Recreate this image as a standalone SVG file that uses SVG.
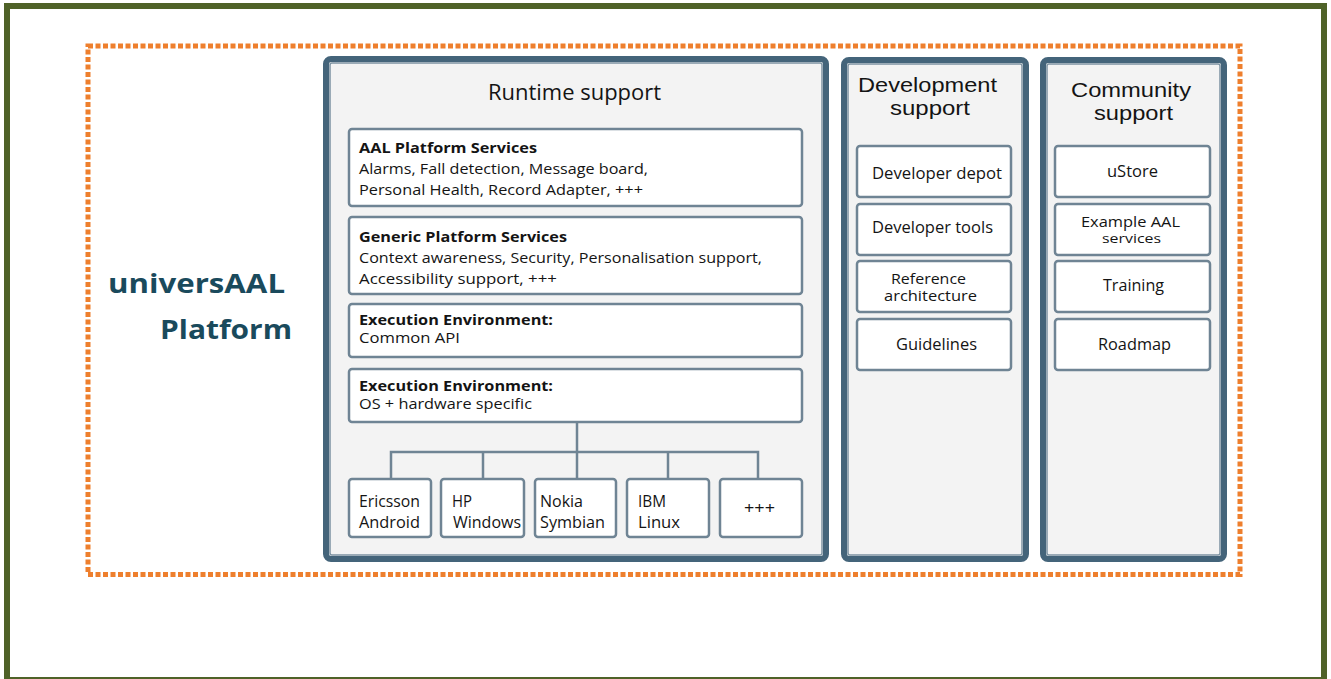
<svg xmlns="http://www.w3.org/2000/svg" width="1331" height="679" viewBox="0 0 1331 679">
<style>
text{font-family:"Open Sans","Liberation Sans",sans-serif;fill:#141414}
.panel{fill:#F3F3F3;stroke:#44647A;stroke-width:6}
.pin{fill:none;stroke:#7D93A2;stroke-width:1.5}
.box{fill:#FFFFFF;stroke:#6F8494;stroke-width:2.5}
.b{font-weight:bold}
.ptitle{font-size:22px}
.stitle{font-size:20px;font-family:"Liberation Sans","Open Sans",sans-serif}
.t15{font-size:15px}
.t14{font-size:13.5px}
.t16{font-size:16px}
.t2{font-size:14.5px}
.conn{fill:none;stroke:#6F8494;stroke-width:2.5}
</style>
<rect width="1331" height="679" fill="#FFFFFF"/>
<rect id="frame" x="7" y="6" width="1317" height="674" fill="none" stroke="#4F6228" stroke-width="6"/>
<rect id="platform-boundary" x="88" y="46" width="1152" height="528.5" fill="none" stroke="#EE7F2D" stroke-width="5" stroke-dasharray="5 2.5"/>
<g id="platform-label">
<text x="285" y="293" class="b" font-size="27" text-anchor="end" style="fill:#1A4A5C" textLength="177" lengthAdjust="spacingAndGlyphs">universAAL</text>
<text x="292" y="339" class="b" font-size="27" text-anchor="end" style="fill:#1A4A5C" textLength="132" lengthAdjust="spacingAndGlyphs">Platform</text>
</g>
<g id="runtime-support">
<rect class="panel" x="326" y="59" width="500" height="500" rx="5"/>
<rect class="pin" x="330" y="63" width="492" height="492" rx="2"/>
<text x="488" y="100" class="ptitle" textLength="173" lengthAdjust="spacingAndGlyphs">Runtime support</text>
</g>
<g id="aal-platform-services">
<rect class="box" x="349" y="129" width="453" height="77" rx="3"/>
<text x="359" y="153" class="b t15" textLength="178" lengthAdjust="spacingAndGlyphs">AAL Platform Services</text>
<text x="359" y="174" class="t15" textLength="289" lengthAdjust="spacingAndGlyphs">Alarms, Fall detection, Message board,</text>
<text x="359" y="195" class="t15" textLength="284" lengthAdjust="spacingAndGlyphs">Personal Health, Record Adapter, +++</text>
</g>
<g id="generic-platform-services">
<rect class="box" x="349" y="217" width="453" height="77" rx="3"/>
<text x="359" y="242" class="b t15" textLength="208" lengthAdjust="spacingAndGlyphs">Generic Platform Services</text>
<text x="359" y="263" class="t15" textLength="403" lengthAdjust="spacingAndGlyphs">Context awareness, Security, Personalisation support,</text>
<text x="359" y="284" class="t15" textLength="198" lengthAdjust="spacingAndGlyphs">Accessibility support, +++</text>
</g>
<g id="exec-env-common">
<rect class="box" x="349" y="304" width="453" height="53" rx="3"/>
<text x="359" y="325" class="b t14" textLength="194" lengthAdjust="spacingAndGlyphs">Execution Environment:</text>
<text x="359" y="343" class="t15" textLength="101" lengthAdjust="spacingAndGlyphs">Common API</text>
</g>
<g id="exec-env-os">
<rect class="box" x="349" y="369" width="453" height="53" rx="3"/>
<text x="359" y="391" class="b t14" textLength="194" lengthAdjust="spacingAndGlyphs">Execution Environment:</text>
<text x="359" y="409" class="t15" textLength="173" lengthAdjust="spacingAndGlyphs">OS + hardware specific</text>
</g>
<g id="connectors">
<path class="conn" d="M577 422 V452 M391 479 V452 H758 V479 M483 452 V479 M577 452 V479 M668 452 V479"/>
</g>
<g id="ericsson-android">
<rect class="box" x="349" y="479" width="82" height="58" rx="3"/>
<text x="359" y="507" class="t16" textLength="61" lengthAdjust="spacingAndGlyphs">Ericsson</text>
<text x="359" y="528" class="t16" textLength="61" lengthAdjust="spacingAndGlyphs">Android</text>
</g>
<g id="hp-windows">
<rect class="box" x="441" y="479" width="83" height="58" rx="3"/>
<text x="452" y="507" class="t16" textLength="20" lengthAdjust="spacingAndGlyphs">HP</text>
<text x="453" y="528" class="t16" textLength="68" lengthAdjust="spacingAndGlyphs">Windows</text>
</g>
<g id="nokia-symbian">
<rect class="box" x="535" y="479" width="81" height="58" rx="3"/>
<text x="540" y="507" class="t16" textLength="43" lengthAdjust="spacingAndGlyphs">Nokia</text>
<text x="540" y="528" class="t16" textLength="65" lengthAdjust="spacingAndGlyphs">Symbian</text>
</g>
<g id="ibm-linux">
<rect class="box" x="627" y="479" width="82" height="58" rx="3"/>
<text x="638" y="507" class="t16" textLength="28" lengthAdjust="spacingAndGlyphs">IBM</text>
<text x="638" y="528" class="t16" textLength="42" lengthAdjust="spacingAndGlyphs">Linux</text>
</g>
<g id="more-platforms">
<rect class="box" x="720" y="479" width="82" height="58" rx="3"/>
<text x="744" y="514" class="t16" textLength="31" lengthAdjust="spacingAndGlyphs">+++</text>
</g>
<g id="development-support">
<rect class="panel" x="844" y="60" width="182" height="499" rx="5"/>
<rect class="pin" x="848" y="64" width="174" height="491" rx="2"/>
<text x="858" y="92" class="stitle" textLength="139" lengthAdjust="spacingAndGlyphs">Development</text>
<text x="890" y="115" class="stitle" textLength="80" lengthAdjust="spacingAndGlyphs">support</text>
</g>
<g id="developer-depot">
<rect class="box" x="857" y="146" width="154" height="51" rx="3"/>
<text x="872" y="179" class="t16" textLength="130" lengthAdjust="spacingAndGlyphs">Developer depot</text>
</g>
<g id="developer-tools">
<rect class="box" x="857" y="204" width="154" height="51" rx="3"/>
<text x="872" y="233" class="t16" textLength="121" lengthAdjust="spacingAndGlyphs">Developer tools</text>
</g>
<g id="reference-architecture">
<rect class="box" x="857" y="261" width="154" height="51" rx="3"/>
<text x="891" y="284" class="t2" textLength="75" lengthAdjust="spacingAndGlyphs">Reference</text>
<text x="884" y="301" class="t2" textLength="93" lengthAdjust="spacingAndGlyphs">architecture</text>
</g>
<g id="guidelines">
<rect class="box" x="857" y="319" width="154" height="51" rx="3"/>
<text x="896" y="350" class="t16" textLength="81" lengthAdjust="spacingAndGlyphs">Guidelines</text>
</g>
<g id="community-support">
<rect class="panel" x="1043" y="60" width="181" height="499" rx="5"/>
<rect class="pin" x="1047" y="64" width="173" height="491" rx="2"/>
<text x="1071" y="97" class="stitle" textLength="120" lengthAdjust="spacingAndGlyphs">Community</text>
<text x="1094" y="120" class="stitle" textLength="79" lengthAdjust="spacingAndGlyphs">support</text>
</g>
<g id="ustore">
<rect class="box" x="1055" y="146" width="155" height="51" rx="3"/>
<text x="1107" y="177" class="t16" textLength="51" lengthAdjust="spacingAndGlyphs">uStore</text>
</g>
<g id="example-aal-services">
<rect class="box" x="1055" y="204" width="155" height="51" rx="3"/>
<text x="1081" y="227" class="t2" textLength="99" lengthAdjust="spacingAndGlyphs">Example AAL</text>
<text x="1102" y="243" font-size="12" textLength="59" lengthAdjust="spacingAndGlyphs">services</text>
</g>
<g id="training">
<rect class="box" x="1055" y="261" width="155" height="51" rx="3"/>
<text x="1103" y="291" class="t16" textLength="61" lengthAdjust="spacingAndGlyphs">Training</text>
</g>
<g id="roadmap">
<rect class="box" x="1055" y="319" width="155" height="51" rx="3"/>
<text x="1098" y="350" class="t16" textLength="73" lengthAdjust="spacingAndGlyphs">Roadmap</text>
</g>
</svg>
